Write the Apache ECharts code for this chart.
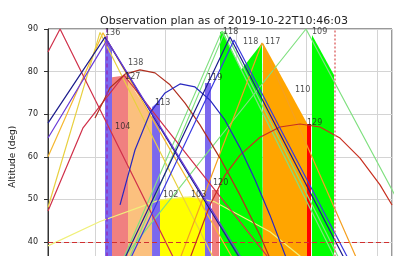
<!DOCTYPE html>
<html><head><meta charset="utf-8">
<script src="https://cdn.jsdelivr.net/npm/echarts@6/dist/echarts.min.js"></script>
<style>html,body{margin:0;padding:0;background:#fff}#c{width:403px;height:256px}</style>
</head><body><div id="c"></div>
<script>
// x = time (hours), y = altitude (deg)
const titleText = 'Observation plan as of 2019-10-22T10:46:03';
const xRange = [11.333, 16.213];
const yTicks = [30, 40, 50, 60, 70, 80, 90];

// altitude tracks [hour, altitude]
const trackR1 = [[11.333,84.6],[11.504,90],[13.305,29.9]];
const trackR2 = [[11.333,47.3],[11.830,66.8],[12.411,79.2],[13.702,52.2],[14.766,29.9]];
const track138 = [[12.0,69.1],[12.213,76.2],[12.426,79.4],[12.638,80.4],[12.851,79.7],[13.064,76.9],[13.277,72.6],[13.489,67.5],[13.773,59.7],[14.057,51.0],[14.340,41.6],[14.553,33.4],[14.652,29.9]];
const track129 = [[13.206,29.9],[13.418,39.3],[13.631,48.7],[13.844,55.7],[14.057,60.4],[14.340,64.6],[14.624,67.0],[14.908,67.7],[15.191,67.0],[15.475,64.4],[15.759,59.7],[16.043,53.4],[16.213,48.7]];
const trackB1 = [[11.333,67.9],[12.142,88.1],[14.284,29.9]];
const trackB2 = [[11.333,64.4],[12.170,87.4],[14.312,29.9]];
const track113 = [[12.355,48.7],[12.567,61.6],[12.780,70.3],[12.993,75.0],[13.206,77.1],[13.418,76.4],[13.631,73.3],[13.844,68.6],[14.057,62.1],[14.270,54.6],[14.482,46.3],[14.695,37.0],[14.865,29.9]];
const trackB4 = [[12.241,29.9],[13.915,88.1],[15.730,29.9]];
const trackB5 = [[12.326,29.9],[13.972,87.4],[15.787,29.9]];
const trackG1 = [[12.241,29.9],[13.801,89.5],[15.592,29.9]];
const trackG2 = [[12.326,29.9],[13.844,89.5],[15.650,29.9]];
const trackG3 = [[12.099,29.9],[14.993,90.0],[16.936,29.9]];
const trackO1 = [[11.333,60.0],[12.113,89.1],[14.170,29.9]];
const trackY2 = [[11.333,48.1],[12.071,89.2],[13.873,29.9]];
const trackO2 = [[13.064,29.9],[14.369,86.7],[15.876,29.9]];
const trackY1 = [[11.333,39.1],[12.071,44.8],[12.922,49.9],[13.348,50.6],[13.702,49.4],[14.482,42.4],[14.908,36.7],[15.191,29.9]];

// observation windows [hour, altitude] (top of filled band)
const win136 = [[12.142,88.1],[12.241,85.4]];
const win127 = [[12.241,78.7],[12.468,79.2]];
const win138 = [[12.468,78.1],[12.809,69.1]];
const win113 = [[12.809,71.7],[12.922,73.3]];
const win102 = [[12.922,49.9],[13.277,50.6],[13.560,50.1]];
const win119 = [[13.560,77.3],[13.645,77.3]];
const win120 = [[13.660,52.2],[13.759,52.2]];
const win118a = [[13.773,89.3],[13.816,89.5],[14.071,80.4]];
const win118b = [[14.071,80.4],[14.369,86.7],[14.383,86.7]];
const win117 = [[14.383,86.7],[15.007,67.9]];
const win129 = [[15.007,67.7],[15.064,67.7]];
const win109 = [[15.078,88.6],[15.390,79.2]];

// target labels
const labelNames = ['136','138','127','104','113','119','118','118','117','109','110','129','102','103','120'];
const labelPos = [[12.142,89.1],[12.468,82.0],[12.426,78.7],[12.284,67.0],[12.851,72.6],[13.589,78.4],[13.816,89.3],[14.099,86.9],[14.411,86.9],[15.078,89.3],[14.837,75.7],[15.007,67.9],[12.965,51.0],[13.362,51.0],[13.674,53.8]];

// limits
const altLimit = 40;
const nightMarks = [12.156, 15.404];

const fills = [
  [win136,'#7b68ee'],[win127,'#f08080'],[win138,'#fbc07e'],[win113,'#7b68ee'],
  [win102,'#ffff00'],[win119,'#7b68ee'],[win120,'#f08080'],[win118a,'#00ff00'],
  [win118b,'#00ff00'],[win117,'#ffa500'],[win129,'#ff0000'],[win109,'#00ff00']
];
const tracks = [
  [trackY1,'#f0f07a'],[trackG1,'#80e080'],[trackG2,'#80e080'],[trackG3,'#80e080'],
  [trackO1,'#f5b830'],[trackY2,'#e8d040'],[trackO2,'#f5a020'],
  [trackR1,'#d0304a'],[trackR2,'#d0304a'],[track138,'#b03020'],[track129,'#c83020'],
  [trackB1,'#1c1c8c'],[trackB2,'#6a3cd8'],[track113,'#2828c0'],[trackB4,'#1c1c8c'],[trackB5,'#3a3ae0']
];

const series = [];
fills.forEach(([d,c]) => series.push({
  type:'line', data:d, symbol:'none', silent:true, z:1,
  lineStyle:{width:0}, areaStyle:{color:c, opacity:1, origin:'start'}
}));
tracks.forEach(([d,c]) => series.push({
  type:'line', data:d, symbol:'none', silent:true, z:3,
  lineStyle:{width:1.2, color:c}
}));
series.push({
  type:'line', data:[], z:4,
  markLine:{silent:true, symbol:'none', label:{show:false},
    data:[
      {yAxis:altLimit, lineStyle:{color:'#d03030', type:[5,3], width:1.2}},
      {xAxis:nightMarks[0], lineStyle:{color:'#9030c0', type:[4,3], width:1.5}},
      {xAxis:nightMarks[1], lineStyle:{color:'#e07070', type:[2,2], width:1.5}}
    ]}
});
series.push({
  type:'scatter', symbolSize:0, z:5, silent:true,
  data: labelNames.map((n,i)=>({name:n, value:labelPos[i]})),
  label:{show:true, position:'right', distance:0, formatter:p=>p.name,
    fontFamily:'DejaVu Sans', fontSize:8, color:'#222'}
});

const chart = echarts.init(document.getElementById('c'), null, {renderer:'canvas'});
chart.setOption({
  animation:false,
  title:{text:titleText, left:219, top:11, textAlign:'center',
    textStyle:{fontFamily:'DejaVu Sans', fontSize:11, fontWeight:'normal', color:'#222'}},
  grid:{left:48, top:29, width:344, height:255.6, show:true, borderColor:'#333', borderWidth:1,
    containLabel:false, outerBoundsMode:'none'},
  xAxis:{type:'value', min:xRange[0], max:xRange[1], splitNumber:5,
    axisLabel:{show:false}, axisTick:{show:false}, axisLine:{show:false},
    splitLine:{show:true, lineStyle:{color:'#d4d4d4', width:1}}},
  yAxis:{type:'value', min:yTicks[0], max:yTicks[yTicks.length-1], interval:10,
    name:'Altitude (deg)', nameLocation:'middle', nameGap:25,
    nameTextStyle:{fontFamily:'DejaVu Sans', fontSize:9, color:'#222'},
    axisLine:{show:true, lineStyle:{color:'#333'}},
    axisTick:{show:true, length:4, lineStyle:{color:'#333'}},
    axisLabel:{fontFamily:'DejaVu Sans', fontSize:8, color:'#222', margin:10},
    splitLine:{show:true, lineStyle:{color:'#d4d4d4', width:1}}},
  series:series
});
</script></body></html>
